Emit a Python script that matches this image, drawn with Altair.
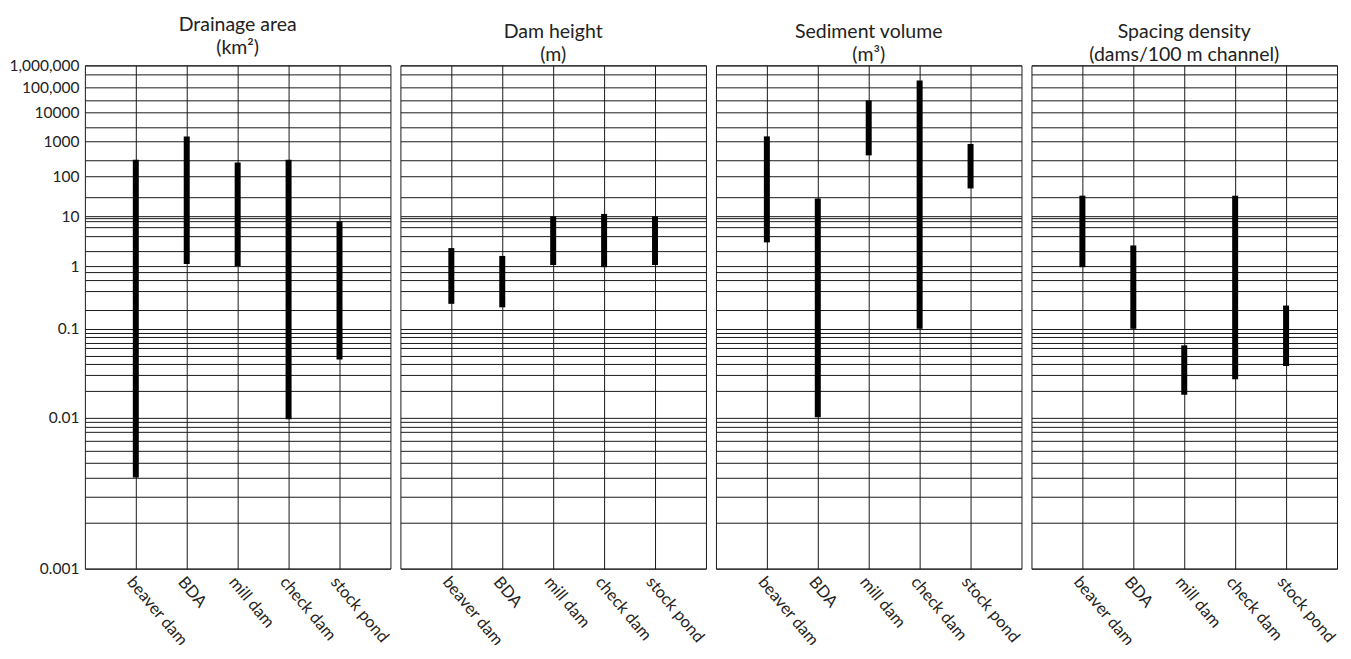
import altair as alt
import pandas as pd

categories = ["beaver dam", "BDA", "mill dam", "check dam", "stock pond"]

panel_titles = [
    ["Drainage area", "(km²)"],
    ["Dam height", "(m)"],
    ["Sediment volume", "(m³)"],
    ["Spacing density", "(dams/100 m channel)"],
]

drainage_min = [0.004, 1.1, 1.0, 0.0097, 0.045]
drainage_max = [300, 1500, 250, 300, 8]
height_min = [0.25, 0.22, 1.05, 0.96, 1.05]
height_max = [2.3, 1.6, 10, 11.5, 10]
sediment_min = [3, 0.01, 400, 0.1, 50]
sediment_max = [1500, 28, 30000, 200000, 850]
spacing_min = [0.96, 0.1, 0.018, 0.027, 0.038]
spacing_max = [33, 2.6, 0.065, 33, 0.235]

decade_values = [0.001, 0.01, 0.1, 1, 10, 100, 1000, 10000, 100000, 1000000]
decade_labels = ["0.001", "0.01", "0.1", "1", "10", "100", "1000", "10000", "100,000", "1,000,000"]
# pixel positions of each decade (the original figure's axis is not evenly spaced)
decade_pixels = [504, 352.5, 263.8, 201, 151.2, 111.2, 76.2, 47.2, 21.8, 0]

grid_values = (
    [0.001, 0.002, 0.003, 0.004, 0.005, 0.006, 0.007, 0.008, 0.0086, 0.0093, 0.01,
     0.02, 0.03, 0.04, 0.05, 0.06, 0.07, 0.08, 0.09, 0.1,
     0.2, 0.4, 0.6, 0.8, 1,
     2, 4, 6, 8, 9, 10,
     30, 100, 300, 1000, 3000, 10000, 30000, 100000, 400000, 1000000]
)

label_expr = ""
for v, lab in zip(decade_values, decade_labels):
    label_expr += f"datum.value == {v} ? '{lab}' : "
label_expr += "''"

FONT = "Lato"
W, H = 306, 504

series = [
    (drainage_min, drainage_max),
    (height_min, height_max),
    (sediment_min, sediment_max),
    (spacing_min, spacing_max),
]

panels = []
for i, ((lo, hi), title) in enumerate(zip(series, panel_titles)):
    df = pd.DataFrame({"type": categories, "low": lo, "high": hi})
    yscale = alt.Scale(type="log", domain=decade_values, range=decade_pixels,
                       nice=False, zero=False)
    if i == 0:
        yaxis = alt.Axis(values=grid_values, labelExpr=label_expr, grid=True,
                         gridColor="#1a1a1a", gridWidth=1, ticks=False, domain=False,
                         labelOverlap=False, labelFont=FONT, labelFontSize=15.5,
                         labelColor="#222", labelPadding=6, title=None)
    else:
        yaxis = alt.Axis(values=grid_values, labels=False, grid=True,
                         gridColor="#1a1a1a", gridWidth=1, ticks=False, domain=False,
                         title=None, minExtent=0, maxExtent=0)
    xaxis = alt.Axis(grid=True, gridColor="#1a1a1a", gridWidth=1, ticks=False,
                     domain=False, labelAngle=50, labelAlign="left",
                     labelBaseline="top", labelPadding=5, labelFont=FONT,
                     labelFontSize=16.5, labelColor="#222", title=None,
                     labelLimit=200)
    ch = (
        alt.Chart(df)
        .mark_bar(size=6, color="black")
        .encode(
            x=alt.X("type:N", sort=categories,
                    scale=alt.Scale(type="point", padding=1, domain=categories),
                    axis=xaxis),
            y=alt.Y("low:Q", scale=yscale, axis=yaxis),
            y2="high:Q",
        )
        .properties(
            width=W, height=H,
            title=alt.TitleParams(title, font=FONT, fontSize=19.5, fontWeight="normal",
                                  color="#222", anchor="middle", lineHeight=22.5,
                                  offset=0),
        )
    )
    panels.append(ch)

chart = (
    alt.hconcat(*panels, spacing=8)
    .properties(padding={"left": 0, "top": 6, "right": 5, "bottom": -5})
    .configure_view(stroke="#1a1a1a", strokeWidth=1)
)

chart.save("out.html", embed_options={"renderer": "svg", "actions": False})
